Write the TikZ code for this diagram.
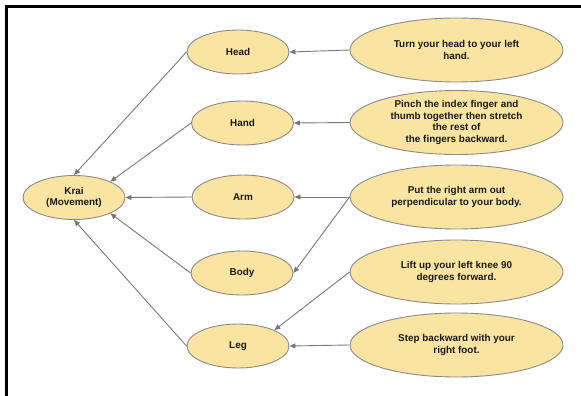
\documentclass[tikz,border=0pt]{standalone}
\usepackage{fontspec}
\setmainfont{Liberation Sans}
\usetikzlibrary{shapes.geometric,arrows.meta}
\definecolor{ovfill}{RGB}{249,228,162}
\definecolor{ovline}{RGB}{138,138,138}
\definecolor{arr}{RGB}{120,120,120}
\definecolor{txt}{RGB}{26,26,26}
\tikzset{
  oval/.style={ellipse, draw=ovline, line width=0.9pt, fill=ovfill, inner sep=0pt,
    align=center, text=txt, font=\bfseries\fontsize{9.9}{11.7}\selectfont},
  small/.style={oval, minimum width=102pt, minimum height=44pt},
  big/.style={oval, minimum width=213pt, minimum height=64pt},
  link/.style={draw=arr, line width=0.9pt, -{Triangle[length=6pt,width=5pt]}}
}
\begin{document}
\begin{tikzpicture}[x=1pt,y=-1pt]
\useasboundingbox (0,0) rectangle (581,396);
\draw[line width=3pt] (5,6.5) -- (581,6.5);
\draw[line width=3pt] (6.5,5) -- (6.5,396);

\node[small] (krai) at (74,197.5) {Krai\\(Movement)};
\node[small] (head) at (238,52) {Head};
\node[small] (hand) at (242.5,123) {Hand};
\node[small] (arm)  at (243,197) {Arm};
\node[small] (body) at (242,273) {Body};
\node[small] (leg)  at (238,346) {Leg};

\node[big] (turn)  at (456.5,50) {Turn your head to your left\\hand.};
\node[big] (pinch) at (456.5,122.5) {Pinch the index finger and\\thumb together then stretch\\the rest of\\the fingers backward.};
\node[big] (put)   at (456.5,197) {Put the right arm out\\perpendicular to your body.};
\node[big] (lift)  at (456.5,272) {Lift up your left knee 90\\degrees forward.};
\node[big] (step)  at (456.5,345) {Step backward with your\\right foot.};

\draw[link] (turn.west) -- (head.east);
\draw[link] (pinch.west) -- (hand.east);
\draw[link] (put.west) -- (arm.east);
\draw[link] (put.west) -- (body.east);
\draw[link] (lift.west) -- (leg.north east);
\draw[link] (step.west) -- (leg.east);

\draw[link] (head.west) -- (krai.north);
\draw[link] (hand.west) -- (krai.north east);
\draw[link] (arm.west) -- (krai.east);
\draw[link] (body.west) -- (krai.south east);
\draw[link] (leg.west) -- (krai.south);
\end{tikzpicture}
\end{document}
